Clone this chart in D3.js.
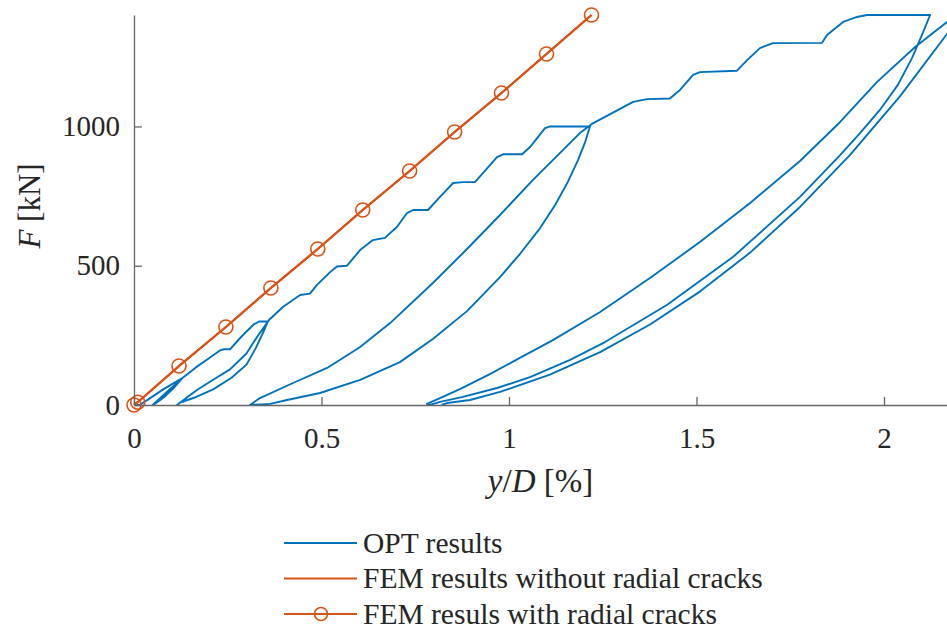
<!DOCTYPE html>
<html>
<head>
<meta charset="utf-8">
<script src="https://cdn.jsdelivr.net/npm/d3@7"></script>
<style>
  body { margin: 0; background: #fff; }
  text { font-family: "Liberation Serif", "Times New Roman", "DejaVu Serif", serif; fill: #262626; }
</style>
</head>
<body>
<div id="chart"></div>
<script>
// Data (x in % of D, y in kN)
const optX = [0, 0.015, 0.04, 0.08, 0.13, 0.105, 0.08, 0.06, 0.05, 0.07, 0.10, 0.13,
  0.165, 0.2, 0.229, 0.24, 0.256, 0.28, 0.30, 0.32, 0.335, 0.357,
  0.345, 0.325, 0.30, 0.26, 0.211, 0.16, 0.123, 0.115,
  0.14, 0.168, 0.21, 0.256, 0.30, 0.328, 0.345, 0.36,
  0.397, 0.443, 0.469, 0.488, 0.523, 0.541, 0.568, 0.603, 0.637, 0.669, 0.701, 0.728, 0.744, 0.784,
  0.816, 0.851, 0.877, 0.909, 0.931, 0.968, 0.984, 1.035, 1.056, 1.096, 1.11, 1.216,
  1.203, 1.184, 1.157, 1.123, 1.083, 1.029, 0.976, 0.888, 0.797, 0.709, 0.603, 0.496, 0.408, 0.363, 0.34, 0.309,
  0.336, 0.424, 0.515, 0.603, 0.683, 0.797, 0.888, 0.976, 1.064, 1.155, 1.189, 1.221, 1.256, 1.296, 1.331,
  1.368, 1.429, 1.456, 1.491, 1.509, 1.608, 1.635, 1.669, 1.704, 1.835, 1.848, 1.891, 1.928, 1.955, 2.123,
  2.101, 2.075, 2.037, 1.989, 1.936, 1.883, 1.776, 1.597, 1.421, 1.256, 1.163, 1.056, 0.968, 0.877, 0.816, 0.789,
  0.781, 0.816, 0.869, 0.949, 1.029, 1.117, 1.243, 1.376, 1.509, 1.643, 1.776, 1.883, 1.981, 2.083, 2.168, 2.2,
  2.2, 2.168, 2.043, 1.909, 1.776, 1.643, 1.509, 1.376, 1.243, 1.109, 0.976, 0.896, 0.835, 0.82];
const optY = [0, 0, 22, 58, 98, 60, 28, 8, 0, 25, 62, 98,
  135, 168, 196, 200, 200, 236, 264, 290, 300, 300,
  262, 205, 145, 98, 56, 26, 9, 0,
  26, 54, 90, 128, 185, 244, 276, 305,
  352, 395, 400, 431, 477, 497, 500, 556, 592, 600, 639, 689, 700, 700,
  747, 797, 800, 800, 833, 890, 900, 900, 926, 994, 1000, 1000,
  944, 879, 801, 718, 635, 542, 459, 337, 237, 154, 90, 43, 18, 4, 2, 0,
  25, 79, 133, 208, 294, 438, 560, 682, 808, 930, 976, 1009, 1034, 1063, 1088,
  1098, 1100, 1131, 1185, 1195, 1200, 1238, 1281, 1299, 1300, 1328, 1375, 1393, 1400, 1400,
  1328, 1246, 1149, 1059, 976, 897, 747, 531, 359, 226, 162, 100, 61, 29, 11, 0,
  4, 25, 57, 111, 169, 233, 334, 456, 585, 725, 876, 1016, 1159, 1285, 1375, 1400,
  1390, 1332, 1109, 897, 711, 547, 407, 289, 190, 109, 47, 18, 7, 0];

const femNoCrackX = [0, 0.01, 0.12, 0.245, 0.365, 0.49, 0.61, 0.735, 0.855, 0.98, 1.1, 1.22];
const femNoCrackY = [0, 10, 140, 280, 420, 560, 700, 840, 980, 1120, 1260, 1400];
const femCrackX = [0, 0.01, 0.12, 0.245, 0.365, 0.49, 0.61, 0.735, 0.855, 0.98, 1.1, 1.22];
const femCrackY = [0, 10, 140, 280, 420, 560, 700, 840, 980, 1120, 1260, 1400];

const xTicks = [0, 0.5, 1, 1.5, 2];
const yTicks = [0, 500, 1000];
const legendLabels = ["OPT results", "FEM results without radial cracks", "FEM resuls with radial cracks"];

// Layout
const [width, height] = [947, 630];
const margin = { top: 15, right: 0, bottom: 225, left: 134 };
const blue = "#0072BD";
const orange = "#D95319";
const serif = '"Liberation Serif", "Times New Roman", "DejaVu Serif", serif';

const svg = d3.select("#chart").append("svg")
  .attr("width", width)
  .attr("height", height);

const x = d3.scaleLinear().domain([0, 2.168]).range([margin.left, width - margin.right]);
const y = d3.scaleLinear().domain([0, 1400]).range([height - margin.bottom, margin.top]);

svg.append("clipPath").attr("id", "plotClip")
  .append("rect")
  .attr("x", margin.left)
  .attr("y", margin.top - 2)
  .attr("width", width - margin.left - margin.right)
  .attr("height", height - margin.bottom - margin.top + 2);

const line = d3.line().x(d => x(d[0])).y(d => y(d[1]));

// OPT results
svg.append("path")
  .datum(optX.map((v, i) => [v, optY[i]]))
  .attr("clip-path", "url(#plotClip)")
  .attr("fill", "none")
  .attr("stroke", blue)
  .attr("stroke-width", 1.9)
  .attr("stroke-linejoin", "round")
  .attr("d", line);

// FEM without radial cracks
svg.append("path")
  .datum(femNoCrackX.map((v, i) => [v, femNoCrackY[i]]))
  .attr("fill", "none")
  .attr("stroke", orange)
  .attr("stroke-width", 2.2)
  .attr("d", line);

// FEM with radial cracks
const crackData = femCrackX.map((v, i) => [v, femCrackY[i]]);
svg.append("path")
  .datum(crackData)
  .attr("fill", "none")
  .attr("stroke", orange)
  .attr("stroke-width", 2.2)
  .attr("d", line);

svg.append("g").selectAll("circle")
  .data(crackData)
  .enter()
  .append("circle")
  .attr("cx", d => x(d[0]))
  .attr("cy", d => y(d[1]))
  .attr("r", 7)
  .attr("fill", "none")
  .attr("stroke", orange)
  .attr("stroke-width", 1.6);

// Axes
const xAxis = svg.append("g")
  .attr("transform", "translate(0," + (height - margin.bottom) + ")")
  .call(d3.axisBottom(x).tickValues(xTicks).tickSizeInner(-8).tickSizeOuter(0).tickPadding(22).tickFormat(d => String(d)));

const yAxis = svg.append("g")
  .attr("transform", "translate(" + margin.left + ",0)")
  .call(d3.axisLeft(y).tickValues(yTicks).tickSizeInner(-8).tickSizeOuter(0).tickPadding(14).tickFormat(d => String(d)));

[xAxis, yAxis].forEach(g => {
  g.select(".domain").attr("stroke", "#666").attr("stroke-width", 1.3);
  g.selectAll(".tick line").attr("stroke", "#666").attr("stroke-width", 1.3);
  g.selectAll(".tick text")
    .attr("fill", "#262626")
    .style("font-family", serif)
    .style("font-size", "29px");
});

// Axis labels
const xLabel = svg.append("text")
  .attr("x", (margin.left + width) / 2)
  .attr("y", 492)
  .attr("text-anchor", "middle")
  .style("font-size", "33px");
xLabel.append("tspan").style("font-style", "italic").text("y");
xLabel.append("tspan").text("/");
xLabel.append("tspan").style("font-style", "italic").text("D");
xLabel.append("tspan").text(" [%]");

const yLabel = svg.append("text")
  .attr("transform", "translate(40,206) rotate(-90)")
  .attr("text-anchor", "middle")
  .style("font-size", "31px");
yLabel.append("tspan").style("font-style", "italic").text("F");
yLabel.append("tspan").text(" [kN]");

// Legend
const legendY = [543, 578.5, 614];
const legend = svg.append("g");
legendLabels.forEach((label, i) => {
  const row = legend.append("g");
  row.append("line")
    .attr("x1", 284).attr("x2", 357)
    .attr("y1", legendY[i]).attr("y2", legendY[i])
    .attr("stroke", i === 0 ? blue : orange)
    .attr("stroke-width", 2.2);
  if (i === 2) {
    row.append("circle")
      .attr("cx", 321).attr("cy", legendY[i])
      .attr("r", 6.5)
      .attr("fill", "none")
      .attr("stroke", orange)
      .attr("stroke-width", 1.6);
  }
  row.append("text")
    .attr("x", 363)
    .attr("y", legendY[i])
    .attr("dy", "0.33em")
    .style("font-size", "29.5px")
    .text(label);
});
</script>
</body>
</html>
